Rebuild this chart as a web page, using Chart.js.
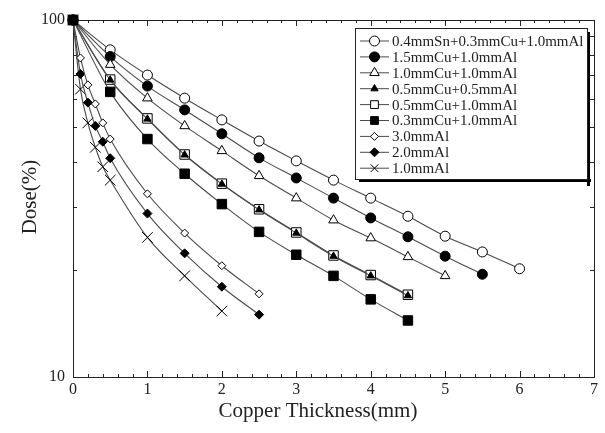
<!DOCTYPE html>
<html>
<head>
<meta charset="utf-8">
<script src="https://cdn.jsdelivr.net/npm/chart.js@4"></script>
<style>
  body { margin: 0; background: #fff; }
</style>
</head>
<body>
<canvas id="myChart" width="605" height="433"></canvas>
<script>
// DATA
const xHalf = [0, 0.5, 1, 1.5, 2, 2.5, 3, 3.5, 4, 4.5, 5, 5.5, 6];
const xFine = [0, 0.1, 0.2, 0.3, 0.4, 0.5, 1, 1.5, 2, 2.5];

const snCuAl = [100, 82.5, 70.1, 60.4, 52.5, 45.8, 40.3, 35.6, 31.7, 28.2, 24.8, 22.4, 20.1];
const cu15Al10 = [100, 79.0, 65.3, 56.0, 48.0, 41.1, 36.1, 31.7, 27.9, 24.7, 21.8, 19.4];
const cu10Al10 = [100, 75.0, 60.4, 50.5, 43.0, 36.6, 31.7, 27.5, 24.5, 21.7, 19.2];
const cu05Al05 = [100, 67.9, 52.8, 41.9, 34.7, 29.4, 25.3, 21.8, 19.2, 16.9];
const cu05Al10 = [100, 68.1, 53.0, 42.0, 34.8, 29.5, 25.4, 21.9, 19.3, 17.0];
const cu03Al10 = [100, 62.9, 46.4, 37.1, 30.5, 25.5, 22.0, 19.2, 16.5, 14.4];
const al30 = [100, 78.3, 65.8, 58.2, 51.5, 46.4, 32.6, 25.3, 20.5, 17.1];
const al20 = [100, 70.6, 58.7, 50.5, 45.6, 41.0, 28.7, 22.2, 17.9, 14.95];
const al10 = [100, 64, 51.5, 44, 38.8, 35.6, 24.6, 19.2, 15.3];

const seriesNames = [
    '0.4mmSn+0.3mmCu+1.0mmAl',
    '1.5mmCu+1.0mmAl',
    '1.0mmCu+1.0mmAl',
    '0.5mmCu+0.5mmAl',
    '0.5mmCu+1.0mmAl',
    '0.3mmCu+1.0mmAl',
    '3.0mmAl',
    '2.0mmAl',
    '1.0mmAl',
];

const xTickLabels = [0, 1, 2, 3, 4, 5, 6, 7];
const yTickLabels = [10, 100];
const xTitle = 'Copper Thickness(mm)';
const yTitle = 'Dose(%)';
// END OF DATA //

function pts(xs, ys) {
    return ys.map((y, i) => ({ x: xs[i], y: y }));
}

const serif = "'Liberation Serif', 'Times New Roman', serif";
const lineCol = '#4a4a4a';

// marker styles: [pointStyle, radius, filled, draw order]
const marks = [
    ['circle', 5, false, 5],
    ['circle', 5, true, 4],
    ['triangle', 5.5, false, 3],
    ['triangle', 4.2, true, 1],
    ['rect', 6.7, false, 2],
    ['rect', 6.7, true, 0],
    ['rectRot', 4, false, 6],
    ['rectRot', 4.5, true, 7],
    ['crossRot', 7.5, false, 8],
];

const allValues = [snCuAl, cu15Al10, cu10Al10, cu05Al05, cu05Al10, cu03Al10, al30, al20, al10];
const allX = [xHalf, xHalf, xHalf, xHalf, xHalf, xHalf, xFine, xFine, xFine];

const datasets = allValues.map((vals, i) => {
    const m = marks[i];
    return {
        label: seriesNames[i],
        data: pts(allX[i], vals),
        borderColor: lineCol,
        borderWidth: 1.1,
        pointStyle: m[0],
        pointRadius: m[1],
        pointBackgroundColor: m[2] ? '#000' : '#fff',
        pointBorderColor: '#000',
        pointBorderWidth: 1,
        cubicInterpolationMode: 'monotone',
        fill: false,
        clip: false,
        order: m[3]
    };
});

// frame + inward ticks (behind the marks)
const framePlugin = {
    id: 'frame',
    beforeDatasetsDraw(chart) {
        const ctx = chart.ctx;
        const a = chart.chartArea;
        const xs = chart.scales.x, ys = chart.scales.y;
        ctx.save();
        ctx.strokeStyle = '#222';
        ctx.lineWidth = 1;
        ctx.beginPath();
        for (let k = 0; k <= 35; k++) {
            const v = k * 0.2;
            const px = Math.round(xs.getPixelForValue(v)) + 0.5;
            const len = (k % 5 === 0) ? 6 : 3;
            ctx.moveTo(px, a.bottom); ctx.lineTo(px, a.bottom - len);
            ctx.moveTo(px, a.top); ctx.lineTo(px, a.top + len);
        }
        for (let v = 20; v <= 90; v += 10) {
            const py = Math.round(ys.getPixelForValue(v)) + 0.5;
            ctx.moveTo(a.left, py); ctx.lineTo(a.left + 4, py);
            ctx.moveTo(a.right, py); ctx.lineTo(a.right - 4, py);
        }
        ctx.stroke();
        ctx.strokeRect(Math.round(a.left) + 0.5, Math.round(a.top) + 0.5,
            Math.round(a.right - a.left), Math.round(a.bottom - a.top));

        // axis titles
        ctx.fillStyle = '#222';
        ctx.font = '21px ' + serif;
        ctx.textAlign = 'center';
        ctx.textBaseline = 'middle';
        ctx.fillText(xTitle, 318, 411);
        ctx.translate(30, 197);
        ctx.rotate(-Math.PI / 2);
        ctx.fillText(yTitle, 0, 0);
        ctx.restore();
    },
    // boxed legend on top
    afterDatasetsDraw(chart) {
        const ctx = chart.ctx;
        ctx.save();
        const bx = 355, by = 28, bw = 232, bh = 151;
        ctx.fillStyle = '#000';
        ctx.fillRect(bx + bw, by + 4, 3, bh + 3);
        ctx.fillRect(bx + 4, by + bh, bw, 3);
        ctx.fillStyle = '#fff';
        ctx.fillRect(bx, by, bw, bh);
        ctx.strokeStyle = '#222';
        ctx.lineWidth = 1;
        ctx.strokeRect(bx + 0.5, by + 0.5, bw, bh);
        ctx.font = '15px ' + serif;
        ctx.textBaseline = 'middle';
        ctx.textAlign = 'left';
        chart.data.datasets.forEach((ds, i) => {
            const y = by + 13 + i * 15.9;
            ctx.strokeStyle = lineCol;
            ctx.beginPath();
            ctx.moveTo(360, y); ctx.lineTo(389, y);
            ctx.stroke();
            ctx.fillStyle = ds.pointBackgroundColor;
            ctx.strokeStyle = '#000';
            Chart.helpers.drawPoint(ctx, {
                pointStyle: ds.pointStyle,
                radius: Math.min(ds.pointRadius, 5.5),
                rotation: 0,
                borderWidth: 1
            }, 374.5, y);
            ctx.fillStyle = '#222';
            ctx.fillText(ds.label, 392, y + 1);
        });
        ctx.restore();
    }
};

const config = {
    type: 'line',
    data: { datasets: datasets },
    options: {
        responsive: false,
        animation: false,
        layout: { padding: { top: 20, right: 11, left: 0, bottom: 0 } },
        plugins: { legend: { display: false }, tooltip: { enabled: false } },
        scales: {
            x: {
                type: 'linear',
                min: 0, max: 7,
                grid: { display: false, drawTicks: false },
                border: { display: false },
                afterBuildTicks: s => { s.ticks = xTickLabels.map(v => ({ value: v })); },
                afterFit: s => { s.height = 56; },
                ticks: { color: '#222', padding: 3, font: { family: serif, size: 16 } }
            },
            y: {
                type: 'logarithmic',
                min: 10, max: 100,
                grid: { display: false, drawTicks: false },
                border: { display: false },
                afterBuildTicks: s => { s.ticks = yTickLabels.map(v => ({ value: v })); },
                afterFit: s => { s.width = 73; },
                ticks: { color: '#222', padding: 8, font: { family: serif, size: 16 },
                    callback: v => String(v) }
            }
        }
    },
    plugins: [framePlugin]
};

var myChart = new Chart(document.getElementById('myChart'), config);
</script>
</body>
</html>
